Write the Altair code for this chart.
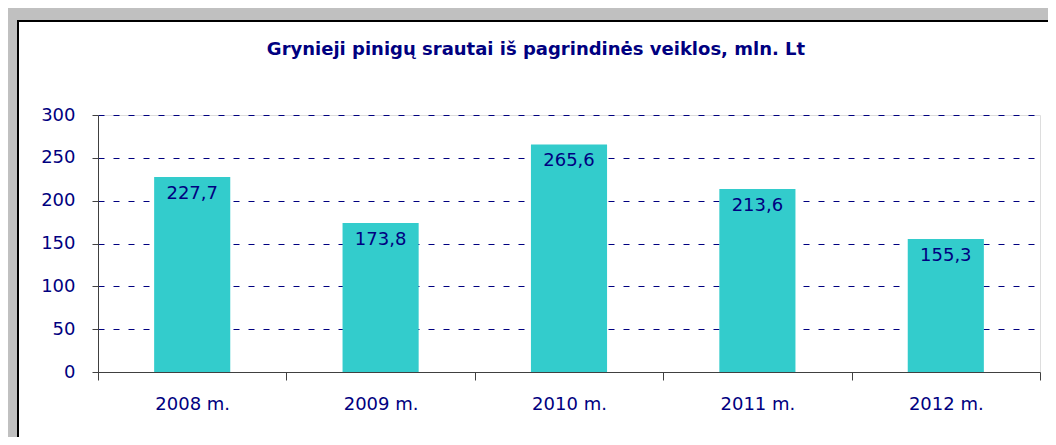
import altair as alt
import pandas as pd

years = ["2008 m.", "2009 m.", "2010 m.", "2011 m.", "2012 m."]
values = [227.7, 173.8, 265.6, 213.6, 155.3]
y_ticks = [0, 50, 100, 150, 200, 250, 300]
title_text = "Grynieji pinigų srautai iš pagrindinės veiklos, mln. Lt"

df = pd.DataFrame({
    "year": years,
    "value": values,
    "label": [f"{v:.1f}".replace(".", ",") for v in values],
})

NAVY = "#000080"
FONT = "DejaVu Sans"

W, H = 942, 257

frame_data = alt.Data(values=[{"t": title_text}])

top_strip = alt.Chart(frame_data).mark_rect(fill="#C0C0C0", strokeWidth=0).encode(
    x=alt.value(-92), x2=alt.value(W + 20), y=alt.value(-107), y2=alt.value(-95)
)
left_strip = alt.Chart(frame_data).mark_rect(fill="#C0C0C0", strokeWidth=0).encode(
    x=alt.value(-92), x2=alt.value(-81), y=alt.value(-107), y2=alt.value(H + 80)
)
frame = alt.Chart(frame_data).mark_rect(fill=None, stroke="#000000", strokeWidth=2).encode(
    x=alt.value(-80), x2=alt.value(W + 40), y=alt.value(-94), y2=alt.value(H + 120)
)
title = alt.Chart(frame_data).mark_text(
    font=FONT, fontSize=18, fontWeight="bold", color=NAVY,
    align="center", baseline="alphabetic"
).encode(x=alt.value(438), y=alt.value(-60), text="t:N")

base = alt.Chart(df)

bars = base.mark_bar(color="#33CCCC", width=alt.RelativeBandSize(0.404)).encode(
    x=alt.X(
        "year:N",
        sort=years,
        title=None,
        scale=alt.Scale(paddingInner=0, paddingOuter=0),
        axis=alt.Axis(
            labelAngle=0,
            labelFont=FONT,
            labelFontSize=18,
            labelColor=NAVY,
            labelPadding=15,
            tickBand="extent",
            tickSize=8,
            tickColor="#404040",
            domainColor="#404040",
            grid=False,
        ),
    ),
    y=alt.Y(
        "value:Q",
        title=None,
        scale=alt.Scale(domain=[0, 300], nice=False),
        axis=alt.Axis(
            values=y_ticks,
            labelFont=FONT,
            labelFontSize=18,
            labelColor=NAVY,
            labelPadding=17,
            tickSize=6,
            tickColor="#404040",
            domainColor="#404040",
            grid=True,
            gridColor=NAVY,
            gridDash=[6, 9],
            gridWidth=1,
        ),
    ),
)

labels = base.mark_text(
    font=FONT, fontSize=18, color=NAVY, baseline="middle", align="center", dy=17
).encode(
    x=alt.X("year:N", sort=years),
    y=alt.Y("value:Q"),
    text="label:N",
)

chart = (
    alt.layer(top_strip, left_strip, frame, title, bars, labels)
    .properties(
        width=W,
        height=H,
        autosize=alt.AutoSizeParams(type="none"),
        padding={"left": 90, "top": 107, "right": 8, "bottom": 65},
    )
    .configure_view(stroke=None)
    .configure(background="white")
)

chart.save("out.html", embed_options={"renderer": "svg", "actions": False})
